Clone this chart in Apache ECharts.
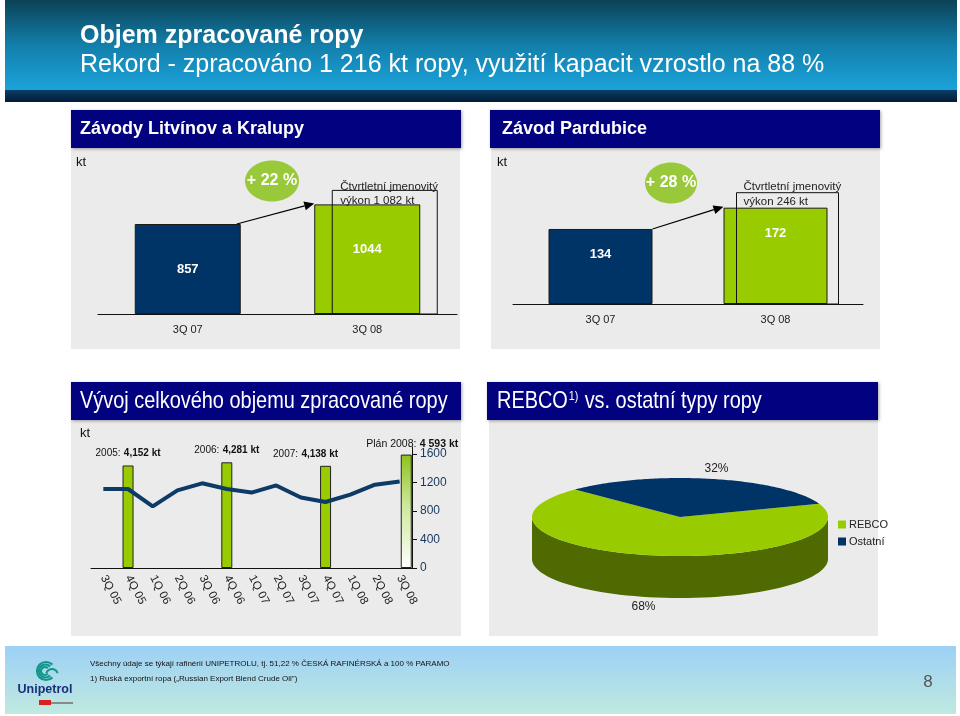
<!DOCTYPE html>
<html><head><meta charset="utf-8">
<script src="https://cdn.jsdelivr.net/npm/echarts@6/dist/echarts.min.js"></script>
<style>html,body{margin:0;padding:0;background:#fff}#c{width:960px;height:716px}</style>
</head><body><div id="c"></div>
<script>
// ---------- data ----------
const litCats = ['3Q 07', '3Q 08'];
const litValues = [857, 1044];
const litCapacity = 1082;
const parCats = ['3Q 07', '3Q 08'];
const parValues = [134, 172];
const parCapacity = 246;
const quarters = ['3Q 05','4Q 05','1Q 06','2Q 06','3Q 06','4Q 06','1Q 07','2Q 07','3Q 07','4Q 07','1Q 08','2Q 08','3Q 08'];
const quarterly = [1110, 1110, 865, 1090, 1190, 1110, 1060, 1160, 991, 927, 1030, 1170, 1216];
const annualYears = ['2005', '2006', '2007'];
const annualValues = [4152, 4281, 4138];
const annualAt = ['4Q 05', '4Q 06', '4Q 07'];
const planYear = '2008';
const planValue = 4593;
const planAt = '3Q 08';
const yTicks = [0, 400, 800, 1200, 1600];
const crudeNames = ['REBCO', 'Ostatní'];
const crudeShares = [68, 32];

// ---------- style ----------
const NAVY = '#003366', GREEN = '#99cc00', SIDE = ['#4e6a00', '#001a33'];
const PIE_COLORS = [GREEN, NAVY];
const FONT = "'Liberation Sans', Arial, sans-serif";
const PIE = { cx: 680, cy: 517, rx: 148, ry: 39, depth: 42, start: 380 };

const fmtComma = v => v.toLocaleString('en-US');
const fmtSpace = v => String(v).replace(/\B(?=(\d{3})+(?!\d))/g, ' ');

const chart = echarts.init(document.getElementById('c'));

function catAxis(gi, cats, fs) {
  return {
    type: 'category', gridIndex: gi, data: cats,
    axisLine: { lineStyle: { color: '#111', width: 1 } },
    axisTick: { length: 5, lineStyle: { color: '#111' } },
    axisLabel: { color: '#222', fontSize: fs, fontFamily: FONT, margin: 10 }
  };
}

function pieSlice(i) {
  return function (params, api) {
    const total = crudeShares.reduce((a, b) => a + b, 0);
    let a0 = PIE.start;
    for (let k = 0; k < i; k++) a0 -= crudeShares[k] / total * 360;
    const a1 = a0 - api.value(0) / total * 360;
    const pt = (deg, dy) => {
      const r = deg * Math.PI / 180;
      return [PIE.cx + PIE.rx * Math.cos(r), PIE.cy - PIE.ry * Math.sin(r) + (dy || 0)];
    };
    const children = [];
    const lo = a1, hi = a0;
    for (let k = -1; k <= 2; k++) {
      const s = Math.max(lo, 180 + 360 * k), e = Math.min(hi, 360 + 360 * k);
      if (e > s) {
        const pts = [];
        const n = 60;
        for (let j = 0; j <= n; j++) pts.push(pt(s + (e - s) * j / n));
        for (let j = n; j >= 0; j--) pts.push(pt(s + (e - s) * j / n, PIE.depth));
        children.push({ type: 'polygon', shape: { points: pts }, style: { fill: SIDE[i] } });
      }
    }
    const top = [[PIE.cx, PIE.cy]];
    const n = 120;
    for (let j = 0; j <= n; j++) top.push(pt(a0 + (a1 - a0) * j / n));
    children.push({ type: 'polygon', shape: { points: top }, style: { fill: PIE_COLORS[i] } });
    const m = (a0 + a1) / 2, mr = m * Math.PI / 180;
    const p = pt(m, Math.sin(mr) < 0 ? PIE.depth : 0);
    children.push({
      type: 'text', z2: 10,
      style: {
        text: Math.round(api.value(0) / total * 100) + '%',
        x: p[0] + 22 * Math.cos(mr), y: p[1] - 10 * Math.sin(mr),
        align: 'center', verticalAlign: 'middle',
        fill: '#222', fontSize: 12, fontFamily: FONT
      }
    });
    return { type: 'group', children };
  };
}

const option = {
  animation: false,
  backgroundColor: '#ffffff',
  textStyle: { fontFamily: FONT },
  grid: [
    { left: 98, top: 167, width: 359, height: 147 },
    { left: 513, top: 164, width: 350, height: 140 },
    { left: 91, top: 447, width: 321, height: 121 }
  ],
  xAxis: [
    catAxis(0, litCats, 11),
    catAxis(1, parCats, 11),
    Object.assign(catAxis(2, quarters, 11.5), {
      axisLabel: { color: '#222', fontSize: 11.5, fontFamily: FONT, rotate: -62, margin: 8, interval: 0 }
    }),
    { type: 'category', gridIndex: 2, data: quarters, show: false }
  ],
  yAxis: [
    { type: 'value', gridIndex: 0, min: 0, max: 1400, show: false },
    { type: 'value', gridIndex: 1, min: 0, max: 250, show: false },
    {
      type: 'value', gridIndex: 2, min: 0, max: 1700, interval: 400, position: 'right',
      splitLine: { show: false },
      axisLine: { show: true, lineStyle: { color: '#111' } },
      axisTick: { show: true, length: 5, customValues: yTicks, lineStyle: { color: '#111' } },
      axisLabel: { customValues: yTicks, color: '#17375e', fontSize: 12, margin: 8, formatter: v => String(v) }
    },
    { type: 'value', gridIndex: 2, min: 0, max: 4900, show: false }
  ],
  legend: {
    data: crudeNames, orient: 'vertical', left: 838, top: 519, padding: 0,
    itemWidth: 8, itemHeight: 8, itemGap: 6, icon: 'rect',
    textStyle: { fontSize: 11, color: '#222', fontFamily: FONT, padding: [0, 0, 0, -2] }
  },
  series: [
    {
      type: 'bar', xAxisIndex: 0, yAxisIndex: 0, barWidth: 106,
      data: litValues.map((v, i) => ({ value: v, itemStyle: { color: i === 0 ? NAVY : GREEN } })),
      itemStyle: { borderColor: '#1b1b1b', borderWidth: 1 },
      label: { show: true, position: 'insideTop', distance: 39, color: '#fff', fontWeight: 'bold', fontSize: 13 }
    },
    {
      type: 'bar', xAxisIndex: 1, yAxisIndex: 1, barWidth: 104,
      data: parValues.map((v, i) => ({ value: v, itemStyle: { color: i === 0 ? NAVY : GREEN } })),
      itemStyle: { borderColor: '#1b1b1b', borderWidth: 1 },
      label: { show: true, position: 'insideTop', distance: 19, color: '#fff', fontWeight: 'bold', fontSize: 13 }
    },
    {
      type: 'bar', xAxisIndex: 2, yAxisIndex: 3, barWidth: 11, z: 2,
      data: quarters.map(q => {
        const k = annualAt.indexOf(q);
        if (k < 0) return '-';
        return k === annualAt.length - 1 ? { value: annualValues[k], label: { offset: [-20, 0] } } : annualValues[k];
      }),
      itemStyle: { color: GREEN, borderColor: '#222', borderWidth: 1 },
      label: {
        show: true, position: 'top', distance: 6,
        formatter: p => {
          const k = annualAt.indexOf(quarters[p.dataIndex]);
          return '{n|' + annualYears[k] + ':} {b|' + fmtComma(p.value) + ' kt}';
        },
        rich: {
          n: { fontSize: 10, color: '#111', fontFamily: FONT },
          b: { fontSize: 10, color: '#111', fontWeight: 'bold', fontFamily: FONT }
        }
      }
    },
    {
      type: 'bar', xAxisIndex: 3, yAxisIndex: 3, barWidth: 11, barGap: '20%', silent: true,
      data: quarters.map(() => '-')
    },
    {
      type: 'bar', xAxisIndex: 3, yAxisIndex: 3, barWidth: 11, barGap: '20%',
      data: quarters.map(q => q === planAt ? planValue : '-'),
      itemStyle: {
        borderColor: '#222', borderWidth: 1,
        color: new echarts.graphic.LinearGradient(0, 1, 1, 0, [
          { offset: 0, color: '#ffffff' }, { offset: 0.55, color: '#cde89a' }, { offset: 1, color: '#8cc21a' }
        ])
      },
      label: {
        show: true, position: 'top', distance: 4, offset: [6, 0],
        formatter: p => '{n|Plán ' + planYear + ':} {b|' + fmtSpace(p.value) + ' kt}',
        rich: {
          n: { fontSize: 10.5, color: '#111', fontFamily: FONT },
          b: { fontSize: 10.5, color: '#111', fontWeight: 'bold', fontFamily: FONT }
        }
      }
    },
    {
      type: 'line', xAxisIndex: 2, yAxisIndex: 2, z: 3, data: quarterly,
      symbol: 'none', lineStyle: { color: '#0e3a66', width: 4 }
    },
    {
      type: 'custom', name: crudeNames[0], coordinateSystem: 'none',
      itemStyle: { color: PIE_COLORS[0] }, data: [crudeShares[0]], renderItem: pieSlice(0)
    },
    {
      type: 'custom', name: crudeNames[1], coordinateSystem: 'none',
      itemStyle: { color: PIE_COLORS[1] }, data: [crudeShares[1]], renderItem: pieSlice(1)
    }
  ]
};
chart.setOption(option);

// ---------- decorations (computed from the chart's own scales) ----------
function px(gi, cat, val) { return chart.convertToPixel({ gridIndex: gi }, [cat, val]); }
function arrow(x1, y1, x2, y2) {
  const dx = x2 - x1, dy = y2 - y1, L = Math.hypot(dx, dy), ux = dx / L, uy = dy / L;
  const hl = 10, hw = 4.5, bx = x2 - ux * hl, by = y2 - uy * hl;
  return [
    { type: 'line', z: 60, shape: { x1: x1, y1: y1, x2: bx, y2: by }, style: { stroke: '#000', lineWidth: 1.2 } },
    { type: 'polygon', z: 60, shape: { points: [[x2, y2], [bx - uy * hw, by + ux * hw], [bx + uy * hw, by - ux * hw]] }, style: { fill: '#000' } }
  ];
}
function rect(x, y, w, h, fill, z, extra) {
  return Object.assign({ type: 'rect', z: z || 0, shape: { x, y, width: w, height: h }, style: { fill } }, extra || {});
}
function text(x, y, t, st, z) {
  return { type: 'text', z: z || 5, style: Object.assign({ x, y, text: t, fill: '#fff', fontFamily: FONT, verticalAlign: 'middle' }, st) };
}
function vgrad(stops) { return new echarts.graphic.LinearGradient(0, 0, 0, 1, stops.map(c => ({ offset: c[0], color: c[1] }))); }
const navyBox = (x, y, w, h) => ({ type: 'rect', z: 1, shape: { x, y, width: w, height: h },
  style: { fill: '#020280', shadowBlur: 3, shadowColor: 'rgba(0,0,0,0.35)', shadowOffsetX: 1, shadowOffsetY: 1 } });

const els = [];
// header
els.push(rect(5, 0, 952, 91, vgrad([[0, '#0b4256'], [0.5, '#137fab'], [1, '#1ba4dc']]), 0));
els.push(rect(5, 90, 952, 12, vgrad([[0, '#0b3f66'], [1, '#021b36']]), 0));
els.push(text(80, 36, 'Objem zpracované ropy', { fontSize: 25, fontWeight: 'bold' }));
els.push(text(80, 65, 'Rekord - zpracováno 1 216 kt ropy, využití kapacit vzrostlo na 88 %', { fontSize: 25 }));
// section headers
els.push(navyBox(71, 110, 390, 38));
els.push(navyBox(490, 110, 390, 38));
els.push(navyBox(71, 382, 390, 38));
els.push(navyBox(487, 382, 391, 38));
els.push(text(80, 129, 'Závody Litvínov a Kralupy', { fontSize: 18, fontWeight: 'bold' }));
els.push(text(502, 129, 'Závod Pardubice', { fontSize: 18, fontWeight: 'bold' }));
els.push({ type: 'text', z: 5, x: 80, y: 401, scaleX: 0.83,
  style: { x: 0, y: 0, text: 'Vývoj celkového objemu zpracované ropy', fill: '#fff', fontFamily: FONT, fontSize: 24, verticalAlign: 'middle' } });
els.push({
  type: 'text', z: 5, x: 497, y: 401, scaleX: 0.83,
  style: {
    x: 0, y: 0, verticalAlign: 'middle', fill: '#fff',
    text: '{a|REBCO}{s|1)}{a| vs. ostatní typy ropy}',
    rich: {
      a: { fontSize: 24, fontFamily: FONT, fill: '#fff', color: '#fff' },
      s: { fontSize: 13, fontFamily: FONT, fill: '#fff', color: '#fff', padding: [0, 1, 10, 1] }
    }
  }
});
// panels
els.push(rect(71, 148, 389, 201, '#ebebeb', 0));
els.push(rect(491, 148, 389, 201, '#ebebeb', 0));
els.push(rect(71, 420, 390, 216, '#ebebeb', 0));
els.push(rect(489, 420, 389, 216, '#ebebeb', 0));
// axis unit labels
els.push(text(76, 162, 'kt', { fontSize: 13, fill: '#111' }));
els.push(text(497, 162, 'kt', { fontSize: 13, fill: '#111' }));
els.push(text(80, 433, 'kt', { fontSize: 13, fill: '#111' }));
// footer
els.push(rect(5, 646, 951, 68, vgrad([[0, '#9dd0f5'], [1, '#bfe9e0']]), 0));
els.push(text(90, 664, 'Všechny údaje se týkají rafinérií UNIPETROLU, tj. 51,22 % ČESKÁ RAFINÉRSKÁ a 100 % PARAMO', { fontSize: 8, fill: '#111' }));
els.push(text(90, 679, '1) Ruská exportní ropa („Russian Export Blend Crude Oil")', { fontSize: 8, fill: '#111' }));
els.push(text(928, 682, '8', { fontSize: 17, fill: '#555', align: 'center' }));
// logo
[9, 6.5, 4].forEach(function (r, i) {
  els.push({ type: 'arc', z: 6, shape: { cx: 46 - i * 0.5, cy: 671, r: r, startAngle: Math.PI * 0.25, endAngle: Math.PI * 1.75, clockwise: true },
    style: { stroke: '#12968c', lineWidth: 2.2, fill: null } });
});
els.push({ type: 'arc', z: 6, shape: { cx: 52, cy: 675, r: 6, startAngle: Math.PI * 1.1, endAngle: Math.PI * 1.9 }, style: { stroke: '#12968c', lineWidth: 2, fill: null } });
els.push(text(45, 690, 'Unipetrol', { fontSize: 12.5, fontWeight: 'bold', fill: '#17307a', align: 'center' }, 6));
els.push(rect(39, 700, 12, 5, '#d8201c', 6));
els.push(rect(51, 702, 22, 2, '#8a8a8a', 6));

// top-left annotations
const L_A = px(0, litCats[0], litValues[0]), L_B = px(0, litCats[1], litValues[1]), L_0 = px(0, litCats[1], 0);
const lbw = 53;
els.push(...arrow(L_A[0] + lbw - 4, L_A[1], L_B[0] - lbw, L_B[1] - 1));
const lbx = L_B[0] - lbw + 18, lby = L_B[1] - 14;
els.push({ type: 'rect', z: 55, shape: { x: lbx, y: lby, width: 105, height: L_0[1] - lby }, style: { fill: null, stroke: '#111', lineWidth: 1 } });
els.push(text(lbx + 8, lby - 4, 'Čtvrtletní jmenovitý', { fontSize: 11.5, fill: '#222' }, 56));
els.push(text(lbx + 8, lby + 10, 'výkon ' + fmtSpace(litCapacity) + ' kt', { fontSize: 11.5, fill: '#222' }, 56));
els.push({ type: 'ellipse', z: 55, shape: { cx: 272, cy: 181, rx: 27, ry: 20.5 }, style: { fill: '#99c93a' } });
els.push(text(272, 181, '+ ' + Math.round((litValues[1] / litValues[0] - 1) * 100) + ' %', { fontSize: 16, fontWeight: 'bold', align: 'center' }, 56));

// top-right annotations
const P_A = px(1, parCats[0], parValues[0]), P_B = px(1, parCats[1], parValues[1]), P_0 = px(1, parCats[1], 0);
const pbw = 52;
els.push(...arrow(P_A[0] + pbw, P_A[1], P_B[0] - pbw, P_B[1] - 1));
const pbx = P_B[0] - pbw + 13, pby = P_B[1] - 15;
els.push({ type: 'rect', z: 55, shape: { x: pbx, y: pby, width: 102, height: P_0[1] - pby }, style: { fill: null, stroke: '#111', lineWidth: 1 } });
els.push(text(pbx + 7, pby - 6, 'Čtvrtletní jmenovitý', { fontSize: 11.5, fill: '#222' }, 56));
els.push(text(pbx + 7, pby + 9, 'výkon ' + fmtSpace(parCapacity) + ' kt', { fontSize: 11.5, fill: '#222' }, 56));
els.push({ type: 'ellipse', z: 55, shape: { cx: 671, cy: 183, rx: 26, ry: 20.5 }, style: { fill: '#99c93a' } });
els.push(text(671, 183, '+ ' + Math.round((parValues[1] / parValues[0] - 1) * 100) + ' %', { fontSize: 16, fontWeight: 'bold', align: 'center' }, 56));

chart.setOption({ graphic: { elements: els } });
</script>
</body></html>
